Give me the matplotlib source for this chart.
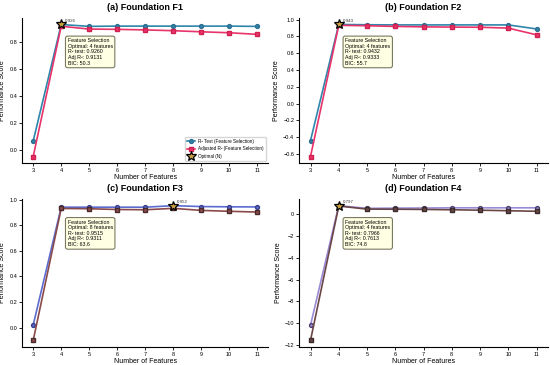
import numpy as np
import matplotlib.pyplot as plt

plt.rcParams['font.family'] = ['Liberation Sans', 'DejaVu Sans']

n_features = [3, 4, 5, 6, 7, 8, 9, 10, 11]

titles = ['(a) Foundation F1', '(b) Foundation F2', '(c) Foundation F3', '(d) Foundation F4']

r2_test = [
    [0.065, 0.926, 0.912, 0.914, 0.914, 0.914, 0.914, 0.914, 0.912],
    [-0.44, 0.943, 0.940, 0.938, 0.938, 0.938, 0.938, 0.938, 0.890],
    [0.02, 0.940, 0.940, 0.940, 0.940, 0.952, 0.945, 0.943, 0.942],
    [-10.2, 0.797, 0.55, 0.57, 0.58, 0.60, 0.60, 0.60, 0.60],
]
adj_r2 = [
    [-0.05, 0.913, 0.892, 0.890, 0.886, 0.880, 0.872, 0.865, 0.853],
    [-0.63, 0.933, 0.928, 0.920, 0.915, 0.912, 0.910, 0.900, 0.820],
    [-0.10, 0.930, 0.928, 0.922, 0.920, 0.931, 0.915, 0.908, 0.902],
    [-11.6, 0.761, 0.48, 0.47, 0.45, 0.42, 0.38, 0.33, 0.28],
]
optimal_n = [4, 4, 8, 4]
best_r2 = [0.9260, 0.9432, 0.9515, 0.7966]
best_adj = [0.9131, 0.9333, 0.9311, 0.7613]
bic = [50.3, 55.7, 63.6, 74.8]

test_colors = ['#2E86AB', '#2E86AB', '#5B6BD0', '#9A8AD6']
test_edge = ['#2E6F91', '#2E6F91', '#3A3F8A', '#4A3F6A']
adj_colors = ['#E8336B', '#E8336B', '#8B4A4A', '#6A4646']
adj_edge = ['#D02050', '#D02050', '#4A2A2A', '#3A2A2A']

fig = plt.figure(figsize=(5.5, 3.65), dpi=100)
positions = [
    [0.040, 0.553, 0.448, 0.398],
    [0.544, 0.553, 0.452, 0.398],
    [0.040, 0.049, 0.448, 0.406],
    [0.544, 0.049, 0.452, 0.406],
]

for i in range(4):
    ax = fig.add_axes(positions[i])
    ax.plot(n_features, r2_test[i], '-o', color=test_colors[i], lw=1.2, ms=2.8,
            mec=test_edge[i], mfc=test_colors[i], label='R² Test (Feature Selection)')
    ax.plot(n_features, adj_r2[i], '-s', color=adj_colors[i], lw=1.2, ms=2.6,
            mec=adj_edge[i], mfc=adj_colors[i], label='Adjusted R² (Feature Selection)')
    k = n_features.index(optimal_n[i])
    ax.plot(optimal_n[i], r2_test[i][k], '*', ms=7, mfc='#C8A040', mec='black',
            mew=0.9, ls='none', label='Optimal (N)', zorder=5)
    ax.annotate(f'{r2_test[i][k]:.3f}', (optimal_n[i], r2_test[i][k]),
                xytext=(3, 2), textcoords='offset points', fontsize=3.2, color='#333333')
    txt = (f'Feature Selection\nOptimal: {optimal_n[i]} features\n'
           f'R² test: {best_r2[i]:.4f}\nAdj R²: {best_adj[i]:.4f}\nBIC: {bic[i]:.1f}')
    ax.text(0.185, 0.86, txt, transform=ax.transAxes, fontsize=3.8, va='top', ha='left',
            linespacing=1.15,
            bbox=dict(boxstyle='round,pad=0.4', facecolor='#FFFFE0', edgecolor='#6B6B50',
                      lw=0.8, alpha=0.9))
    ax.set_title(titles[i], fontsize=6.5, fontweight='bold', pad=6)
    ax.set_xlabel('Number of Features', fontsize=5, labelpad=1)
    ax.set_ylabel('Performance Score', fontsize=5, labelpad=2)
    ax.set_xticks(n_features)
    ax.tick_params(labelsize=4, length=2, width=0.6, pad=1.5)
    for s in ['top', 'right']:
        ax.spines[s].set_visible(False)
    for s in ['left', 'bottom']:
        ax.spines[s].set_linewidth(0.8)
    if i == 0:
        ax.legend(loc='lower right', fontsize=3.3, frameon=True, handlelength=1.8,
                  borderpad=0.5, labelspacing=0.5, handletextpad=0.6)

fig.savefig('out.png', dpi=100)
